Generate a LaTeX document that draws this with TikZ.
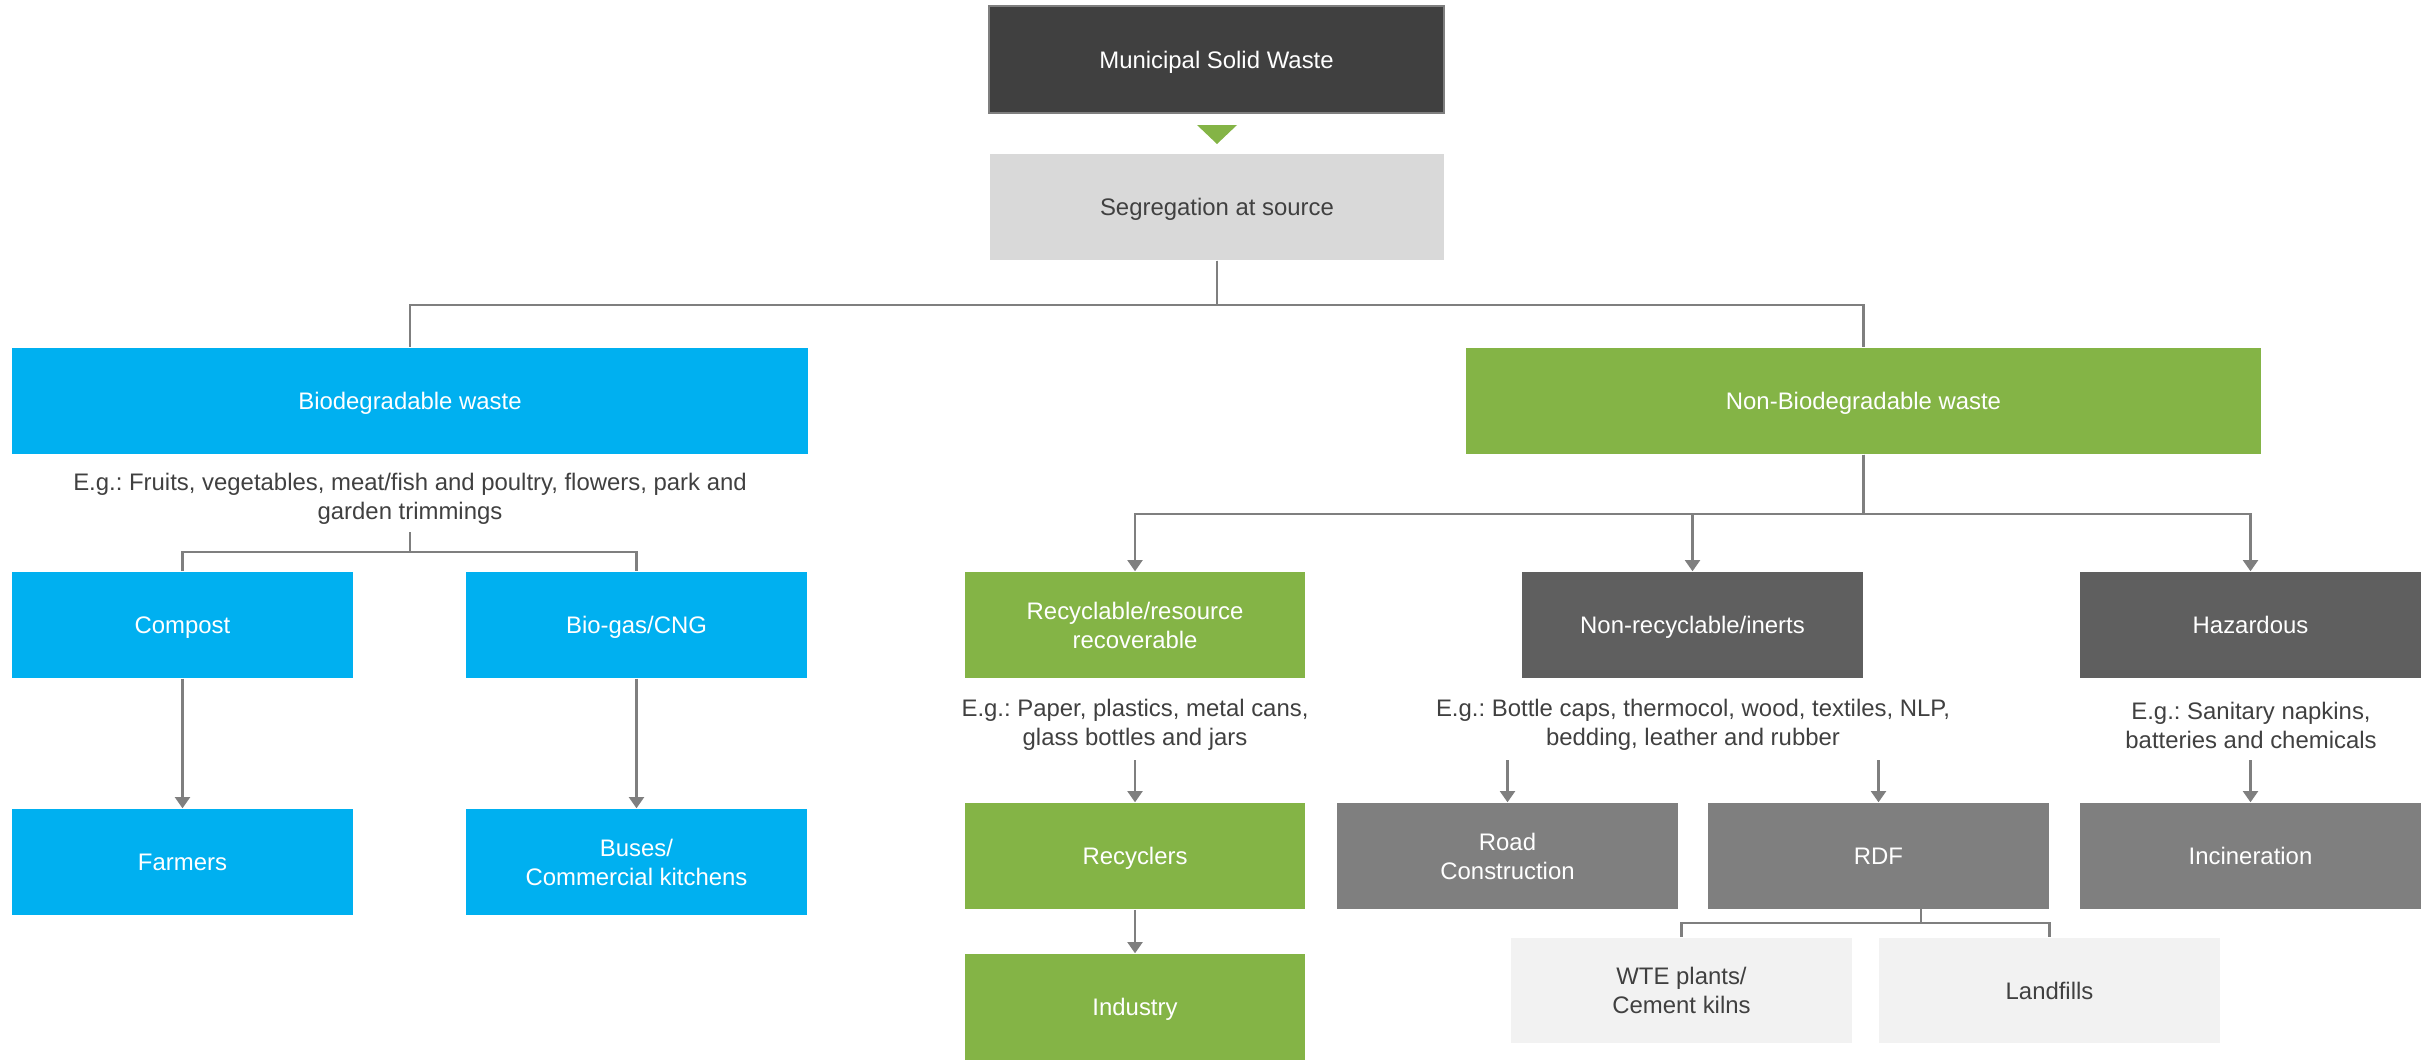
\documentclass[tikz,border=0pt]{standalone}
\usepackage{fontspec}
\setmainfont{Liberation Sans}
\usetikzlibrary{arrows.meta}
\frenchspacing
\definecolor{cblue}{HTML}{00B0F0}
\definecolor{cgreen}{HTML}{84B446}
\definecolor{cdark}{HTML}{404040}
\definecolor{cmid}{HTML}{5F5F5F}
\definecolor{cgray}{HTML}{7F7F7F}
\definecolor{clight}{HTML}{D9D9D9}
\definecolor{cpale}{HTML}{F2F2F2}
\definecolor{ctext}{HTML}{404040}
\definecolor{cline}{HTML}{7F7F7F}
\tikzset{
  box/.style={rectangle, inner sep=0pt, align=center, text=white,
    font=\fontsize{6.8}{8.25}\selectfont},
  sl/.style={text height=4.87pt, text depth=0pt},
  wide/.style={box, sl, minimum width=7.95cm, minimum height=1.06cm},
  mbox/.style={box, minimum width=3.41cm, minimum height=1.06cm},
  eg/.style={align=center, text=ctext, inner sep=0pt,
    font=\fontsize{6.8}{8.25}\selectfont},
  conn/.style={draw=cline, line width=0.6pt},
  arr/.style={conn, -{Triangle[width=4.3pt,length=3.2pt]}},
}
\begin{document}
\begin{tikzpicture}[x=0.01cm,y=-0.01cm]
\useasboundingbox (0,0) rectangle (2433,1060);
% top
\node[box, sl, fill=cdark, draw=cgray, line width=0.5pt, minimum width=4.55cm, minimum height=1.07cm] (msw) at (1216.5,59.5) {Municipal Solid Waste};
\fill[cgreen] (1197,125) -- (1237,125) -- (1217,144) -- cycle;
\node[box, sl, fill=clight, text=ctext, minimum width=4.54cm, minimum height=1.06cm] (seg) at (1217,207) {Segregation at source};
% level 2
\node[wide, fill=cblue] (bio) at (410,401) {Biodegradable waste};
\node[wide, fill=cgreen] (nb) at (1863.5,401) {Non-Biodegradable waste};
\draw[conn] (seg.south) -- ++(0,44) -| (bio.north);
\draw[conn] (seg.south) -- ++(0,44) -| (nb.north);
% biodegradable branch
\node[eg] (bioeg) at (410,499) {E.g.: Fruits, vegetables, meat/fish and poultry, flowers, park and\\garden trimmings};
\node[mbox, sl, fill=cblue] (compost) at (182.5,625) {Compost};
\node[mbox, sl, fill=cblue] (biogas) at (636.5,625) {Bio-gas/CNG};
\node[mbox, sl, fill=cblue] (farmers) at (182.5,862) {Farmers};
\node[mbox, fill=cblue] (buses) at (636.5,862) {Buses/\\Commercial kitchens};
\coordinate (bj) at (410,532);
\draw[conn] (bj) -- ++(0,20) -| (compost.north);
\draw[conn] (bj) -- ++(0,20) -| (biogas.north);
\draw[arr] (compost.south) -- (farmers.north);
\draw[arr] (biogas.south) -- (buses.north);
% non-biodegradable branch
\node[mbox, fill=cgreen, minimum width=3.40cm] (recyc) at (1135,625) {Recyclable/resource\\recoverable};
\node[mbox, sl, fill=cmid] (nonrec) at (1692.5,625) {Non-recyclable/inerts};
\node[mbox, sl, fill=cmid] (haz) at (2250.5,625) {Hazardous};
\draw[arr] (nb.south) -- ++(0,59) -| (recyc.north);
\draw[arr] (nb.south) -- ++(0,59) -| (nonrec.north);
\draw[arr] (nb.south) -- ++(0,59) -| (haz.north);
\node[eg] (recyceg) at (1135,725) {E.g.: Paper, plastics, metal cans,\\glass bottles and jars};
\node[eg] (nonreceg) at (1693,725) {E.g.: Bottle caps, thermocol, wood, textiles, NLP,\\bedding, leather and rubber};
\node[eg] (hazeg) at (2251,725) {E.g.: Sanitary napkins,\\batteries and chemicals};
\node[mbox, sl, fill=cgreen, minimum width=3.40cm] (recyclers) at (1135,856) {Recyclers};
\node[mbox, sl, fill=cgreen, minimum width=3.40cm] (industry) at (1135,1007) {Industry};
\node[mbox, fill=cgray] (road) at (1507.5,856) {Road\\Construction};
\node[mbox, sl, fill=cgray] (rdf) at (1878.5,856) {RDF};
\node[mbox, sl, fill=cgray] (incin) at (2250.5,856) {Incineration};
\coordinate (rs) at (1135,760);
\coordinate (ns1) at (1507.5,760);
\coordinate (ns2) at (1878.5,760);
\coordinate (hs) at (2250.5,760);
\draw[arr] (rs) -- (recyclers.north);
\draw[arr] (recyclers.south) -- (industry.north);
\draw[arr] (ns1) -- (road.north);
\draw[arr] (ns2) -- (rdf.north);
\draw[arr] (hs) -- (incin.north);
\node[mbox, fill=cpale, text=ctext, minimum height=1.05cm] (wte) at (1681.5,990.5) {WTE plants/\\Cement kilns};
\node[mbox, sl, fill=cpale, text=ctext, minimum height=1.05cm] (land) at (2049.5,990.5) {Landfills};
\coordinate (rdfout) at (1921,909);
\draw[conn] (rdfout) -- ++(0,14) -| (wte.north);
\draw[conn] (rdfout) -- ++(0,14) -| (land.north);
\end{tikzpicture}
\end{document}
